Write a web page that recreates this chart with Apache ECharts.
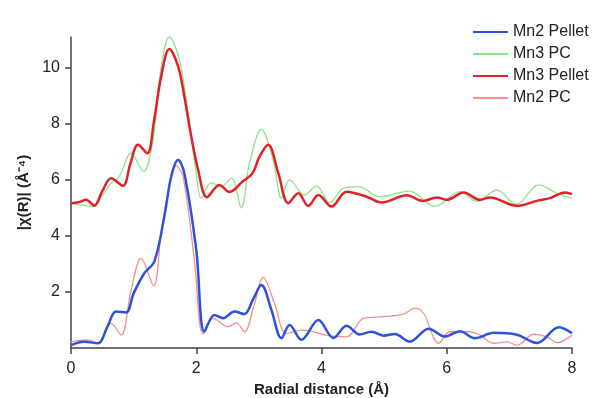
<!DOCTYPE html>
<html>
<head>
<meta charset="utf-8">
<script src="https://cdn.jsdelivr.net/npm/echarts@6/dist/echarts.min.js"></script>
<style>
  html, body { margin: 0; padding: 0; background: #fff; }
  #chart { width: 598px; height: 398px; }
</style>
</head>
<body>
<div id="chart"></div>
<script>
// radial distance (Å) / |chi(R)|
const mn3PelletX = [0, 0.12, 0.24, 0.37, 0.5, 0.64, 0.83, 0.95, 1.07, 1.22, 1.32, 1.44, 1.57, 1.71, 1.81, 1.92, 2.03, 2.17, 2.37, 2.53, 2.74, 2.9, 3.01, 3.15, 3.31, 3.47, 3.63, 3.79, 3.95, 4.16, 4.4, 4.72, 4.96, 5.36, 5.62, 5.84, 6.0, 6.27, 6.53, 6.69, 7.12, 7.44, 7.65, 7.89, 8.0];
const mn3PelletY = [5.17, 5.2, 5.29, 5.08, 5.6, 6.06, 5.79, 6.6, 7.25, 6.95, 8.02, 9.69, 10.67, 10.05, 8.98, 7.55, 6.36, 5.38, 5.82, 5.57, 5.94, 6.24, 6.83, 7.25, 6.24, 5.17, 5.52, 5.07, 5.46, 5.05, 5.58, 5.4, 5.19, 5.45, 5.25, 5.37, 5.29, 5.55, 5.29, 5.37, 5.07, 5.25, 5.35, 5.55, 5.49];

const mn3PcX = [0, 0.16, 0.37, 0.5, 0.64, 0.77, 0.96, 1.16, 1.31, 1.41, 1.57, 1.73, 1.87, 2.0, 2.08, 2.24, 2.4, 2.56, 2.72, 2.85, 3.04, 3.23, 3.36, 3.49, 3.73, 3.92, 4.13, 4.35, 4.59, 4.93, 5.4, 5.81, 6.21, 6.48, 6.8, 7.11, 7.47, 7.76, 8.0];
const mn3PcY = [5.17, 5.1, 5.05, 5.45, 5.88, 6.12, 6.95, 6.3, 7.43, 9.57, 11.1, 10.3, 8.38, 6.24, 5.35, 5.9, 5.76, 6.06, 5.0, 6.6, 7.8, 6.7, 5.35, 6.0, 5.46, 5.79, 5.19, 5.7, 5.76, 5.4, 5.6, 5.05, 5.58, 5.23, 5.64, 5.13, 5.82, 5.52, 5.35];

const mn2PelletX = [0, 0.21, 0.43, 0.58, 0.72, 0.88, 1.0, 1.17, 1.33, 1.49, 1.6, 1.71, 1.81, 2.0, 2.13, 2.29, 2.43, 2.61, 2.77, 2.9, 3.04, 3.2, 3.36, 3.49, 3.68, 3.95, 4.19, 4.4, 4.61, 4.8, 4.99, 5.17, 5.41, 5.71, 5.97, 6.21, 6.45, 6.75, 7.12, 7.44, 7.79, 8.0];
const mn2PelletY = [0.1, 0.22, 0.17, 0.75, 1.3, 1.27, 1.95, 2.67, 3.08, 4.69, 6.12, 6.71, 6.24, 3.5, 0.58, 1.18, 1.06, 1.3, 1.21, 1.7, 2.25, 1.36, 0.35, 0.82, 0.29, 1.0, 0.36, 0.79, 0.48, 0.58, 0.44, 0.5, 0.23, 0.69, 0.41, 0.6, 0.35, 0.54, 0.47, 0.18, 0.74, 0.53];

const mn2PcX = [0, 0.27, 0.43, 0.64, 0.8, 0.96, 1.12, 1.32, 1.44, 1.57, 1.68, 1.79, 1.97, 2.11, 2.27, 2.51, 2.64, 2.77, 2.92, 3.07, 3.25, 3.44, 3.71, 4.13, 4.4, 4.67, 4.99, 5.31, 5.49, 5.63, 5.87, 6.05, 6.37, 6.53, 6.75, 6.96, 7.12, 7.39, 7.6, 7.76, 8.0];
const mn2PcY = [0.22, 0.29, 0.17, 0.88, 0.46, 2.07, 3.2, 2.21, 4.1, 5.76, 6.5, 6.12, 3.14, 0.5, 1.06, 0.76, 0.9, 0.58, 1.5, 2.52, 1.6, 0.52, 0.64, 0.43, 0.4, 1.06, 1.12, 1.21, 1.42, 1.24, 0.17, 0.58, 0.58, 0.46, 0.17, 0.22, 0.1, 0.49, 0.4, 0.19, 0.46];

const legendNames = ['Mn2 Pellet', 'Mn3 PC', 'Mn3 Pellet', 'Mn2 PC'];
const xTicks = [0, 2, 4, 6, 8];
const yTicks = [2, 4, 6, 8, 10];

const zip = (xs, ys) => xs.map((x, i) => [x, ys[i]]);
const font = 'Liberation Sans';

const chart = echarts.init(document.getElementById('chart'));

function line(name, xs, ys, color, width) {
  return {
    name,
    type: 'line',
    data: zip(xs, ys),
    smooth: 0.35,
    symbol: 'none',
    color,
    lineStyle: { width, color },
  };
}

chart.setOption({
  animation: false,
  backgroundColor: '#fff',
  grid: { left: 71, right: 26, top: 37, bottom: 50, outerBoundsMode: 'none' },
  legend: {
    data: legendNames,
    orient: 'vertical',
    left: 467,
    top: 19,
    itemWidth: 35,
    itemHeight: 14,
    itemGap: 6,
    itemStyle: { opacity: 0 }, // hide the circle, keep only the line
    textStyle: { fontFamily: font, fontSize: 16, color: '#222' },
  },
  xAxis: {
    type: 'value',
    min: 0,
    max: 8,
    interval: 2,
    name: 'Radial distance (Å)',
    nameLocation: 'middle',
    nameGap: 32,
    nameTextStyle: { fontFamily: font, fontSize: 15, fontWeight: 'bold', color: '#222' },
    axisLine: { lineStyle: { color: '#444', width: 1.5 } },
    axisTick: { show: true, length: 6, lineStyle: { color: '#444', width: 1.5 }, customValues: xTicks },
    axisLabel: { fontFamily: font, fontSize: 16, color: '#222', margin: 13, customValues: xTicks },
    splitLine: { show: false },
  },
  yAxis: {
    type: 'value',
    min: 0,
    max: 11.1,
    name: '|χ(R)| (Å⁻⁴)',
    nameLocation: 'middle',
    nameRotate: 90,
    nameGap: 37,
    nameTextStyle: { fontFamily: font, fontSize: 15, fontWeight: 'bold', color: '#222' },
    axisLine: { show: true, lineStyle: { color: '#444', width: 1.5 } },
    axisTick: { show: true, length: 6, lineStyle: { color: '#444', width: 1.5 }, customValues: yTicks },
    axisLabel: { fontFamily: font, fontSize: 16, color: '#222', margin: 11, customValues: yTicks },
    splitLine: { show: false },
  },
  series: [
    line('Mn3 PC', mn3PcX, mn3PcY, '#86e886', 1.3),
    line('Mn3 Pellet', mn3PelletX, mn3PelletY, '#e02128', 2.5),
    line('Mn2 PC', mn2PcX, mn2PcY, '#f29090', 1.3),
    line('Mn2 Pellet', mn2PelletX, mn2PelletY, '#2d52dc', 2.5),
  ],
});
</script>
</body>
</html>
